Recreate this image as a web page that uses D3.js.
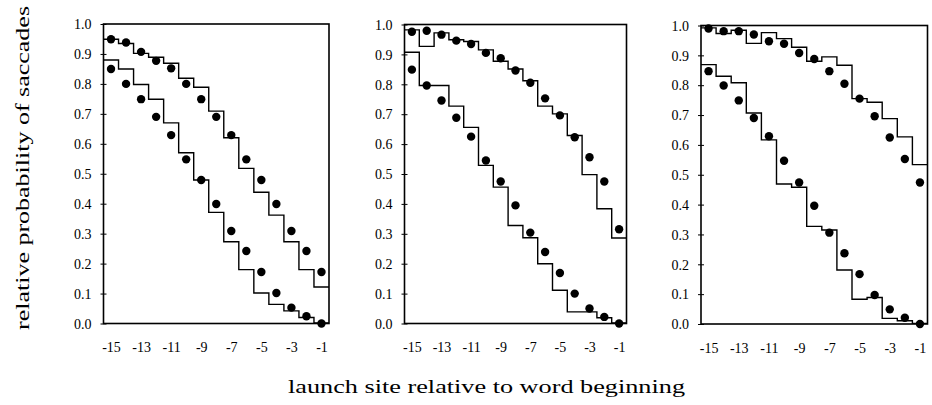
<!DOCTYPE html>
<html>
<head>
<meta charset="utf-8">
<script src="https://cdn.jsdelivr.net/npm/d3@7"></script>
<style>
  html, body { margin: 0; padding: 0; background: #fff; }
  svg { display: block; }
  text { font-family: "Liberation Serif", "Times New Roman", Times, serif; fill: #000; }
  .tick text { font-size: 14px; }
</style>
</head>
<body>
<svg id="chart" width="932" height="405"></svg>
<script>
// ---------- data ----------
const launchSites = [-15, -14, -13, -12, -11, -10, -9, -8, -7, -6, -5, -4, -3, -2, -1];
const xTickValues = [-15, -13, -11, -9, -7, -5, -3, -1];
const yTickValues = [0, 0.1, 0.2, 0.3, 0.4, 0.5, 0.6, 0.7, 0.8, 0.9, 1.0];

// panel 1
const p1ObsUpper   = [0.949, 0.938, 0.907, 0.877, 0.852, 0.800, 0.749, 0.690, 0.629, 0.548, 0.479, 0.399, 0.309, 0.242, 0.172];
const p1ModelUpper = [0.949, 0.935, 0.902, 0.889, 0.869, 0.819, 0.789, 0.709, 0.620, 0.518, 0.438, 0.362, 0.273, 0.180, 0.122];
const p1ObsLower   = [0.850, 0.800, 0.749, 0.690, 0.629, 0.548, 0.479, 0.399, 0.309, 0.242, 0.172, 0.102, 0.053, 0.024, 0.000];
const p1ModelLower = [0.880, 0.850, 0.798, 0.749, 0.670, 0.570, 0.479, 0.371, 0.273, 0.180, 0.102, 0.064, 0.042, 0.020, 0.002];

// panel 2
const p2ObsUpper   = [0.976, 0.979, 0.966, 0.946, 0.935, 0.905, 0.887, 0.846, 0.805, 0.753, 0.696, 0.623, 0.556, 0.475, 0.315];
const p2ModelUpper = [0.982, 0.927, 0.972, 0.949, 0.943, 0.915, 0.877, 0.851, 0.812, 0.727, 0.701, 0.629, 0.498, 0.384, 0.286];
const p2ObsLower   = [0.849, 0.796, 0.746, 0.688, 0.625, 0.545, 0.475, 0.395, 0.304, 0.239, 0.169, 0.100, 0.050, 0.022, 0.000];
const p2ModelLower = [0.907, 0.796, 0.796, 0.727, 0.656, 0.529, 0.456, 0.328, 0.287, 0.200, 0.111, 0.039, 0.039, 0.019, 0.002];

// panel 3
const p3ObsUpper   = [0.990, 0.981, 0.981, 0.970, 0.947, 0.939, 0.908, 0.888, 0.847, 0.805, 0.755, 0.696, 0.625, 0.553, 0.474];
const p3ModelUpper = [0.992, 0.973, 0.984, 0.940, 0.976, 0.956, 0.927, 0.880, 0.895, 0.867, 0.755, 0.743, 0.688, 0.627, 0.534];
const p3ObsLower   = [0.847, 0.799, 0.749, 0.690, 0.629, 0.547, 0.474, 0.396, 0.306, 0.237, 0.167, 0.097, 0.049, 0.021, 0.000];
const p3ModelLower = [0.869, 0.830, 0.808, 0.707, 0.617, 0.469, 0.458, 0.327, 0.315, 0.181, 0.083, 0.089, 0.019, 0.011, 0.002];

const yTitle = "relative probability of saccades";
const xTitle = "launch site relative to word beginning";

// ---------- layout ----------
const panels = [
  { x0: 103.5, x1: 329.0, top: 24.0, bottom: 323.5,
    obs: [p1ObsUpper, p1ObsLower], model: [p1ModelUpper, p1ModelLower] },
  { x0: 404.5, x1: 626.5, top: 24.5, bottom: 323.5,
    obs: [p2ObsUpper, p2ObsLower], model: [p2ModelUpper, p2ModelLower] },
  { x0: 701.0, x1: 927.5, top: 25.5, bottom: 324.0,
    obs: [p3ObsUpper, p3ObsLower], model: [p3ModelUpper, p3ModelLower] }
];

const svg = d3.select("#chart");

panels.forEach(p => {
  const x = d3.scaleLinear().domain([-15.5, -0.5]).range([p.x0, p.x1]);
  const y = d3.scaleLinear().domain([0, 1]).range([p.bottom, p.top]);
  const g = svg.append("g");

  // frame
  g.append("rect")
    .attr("x", p.x0).attr("y", p.top)
    .attr("width", p.x1 - p.x0).attr("height", p.bottom - p.top)
    .attr("fill", "none").attr("stroke", "#000").attr("stroke-width", 1.6);

  // y axis
  const yAxis = d3.axisLeft(y).tickValues(yTickValues).tickFormat(d3.format(".1f"))
    .tickSize(3).tickPadding(9);
  const ya = g.append("g").attr("transform", `translate(${p.x0},0)`).call(yAxis);
  ya.attr("font-size", 14).attr("font-family", null);
  ya.select(".domain").remove();
  ya.selectAll(".tick line").attr("x1", -3).attr("x2", 3).attr("stroke", "#000").attr("stroke-width", 1);
  ya.selectAll(".tick text").attr("font-size", 14).attr("dy", "0.34em").attr("fill", "#111");

  // x axis
  const xAxis = d3.axisBottom(x).tickValues(xTickValues).tickFormat(d => String(d))
    .tickSize(0).tickPadding(19);
  const xa = g.append("g").attr("transform", `translate(0,${p.bottom})`).call(xAxis);
  xa.attr("font-size", 14).attr("font-family", null);
  xa.select(".domain").remove();
  xa.selectAll(".tick text").attr("font-size", 14).attr("fill", "#111");

  // model step lines
  const step = d3.line()
    .x(d => x(d[0])).y(d => y(d[1]))
    .curve(d3.curveStepAfter);
  p.model.forEach(series => {
    const pts = launchSites.map((s, i) => [s - 0.5, series[i]]);
    pts.push([launchSites[launchSites.length - 1] + 0.5, series[series.length - 1]]);
    g.append("path")
      .attr("d", step(pts))
      .attr("fill", "none").attr("stroke", "#000").attr("stroke-width", 1.4);
  });

  // observed dots
  p.obs.forEach(series => {
    g.selectAll(null)
      .data(launchSites.map((s, i) => [s, series[i]]))
      .enter().append("circle")
      .attr("cx", d => x(d[0])).attr("cy", d => y(d[1]))
      .attr("r", 4.2).attr("fill", "#000");
  });
});

// axis titles
svg.append("text")
  .attr("transform", "translate(29,168) rotate(-90)")
  .attr("text-anchor", "middle")
  .attr("font-size", 19)
  .attr("textLength", 324).attr("lengthAdjust", "spacingAndGlyphs")
  .text(yTitle);

svg.append("text")
  .attr("x", 486.5).attr("y", 393)
  .attr("text-anchor", "middle")
  .attr("font-size", 19)
  .attr("textLength", 397).attr("lengthAdjust", "spacingAndGlyphs")
  .text(xTitle);
</script>
</body>
</html>
